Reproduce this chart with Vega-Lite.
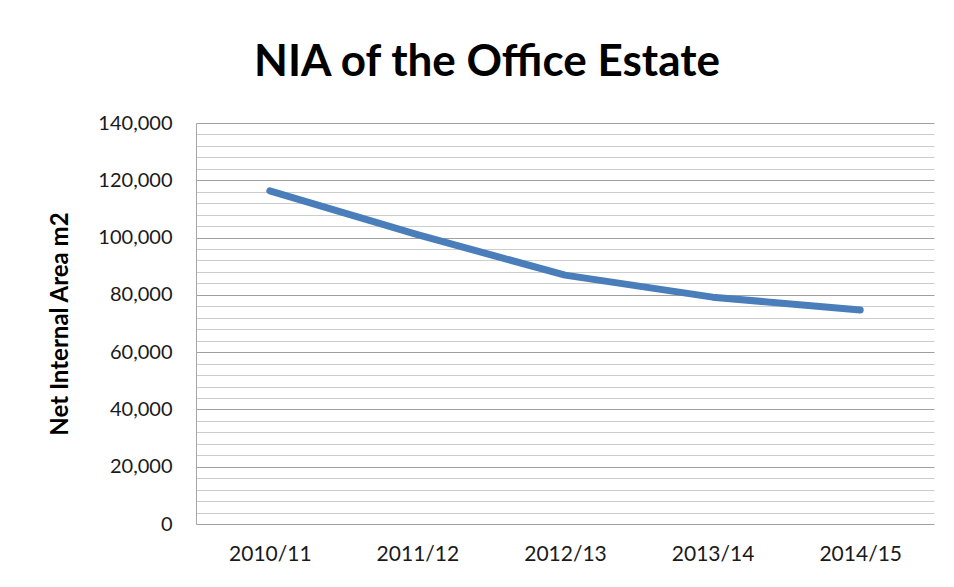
{
  "$schema": "https://vega.github.io/schema/vega-lite/v6.json",
  "autosize": "none",
  "width": 738,
  "height": 401,
  "padding": {"left": 196, "top": 123, "right": 20, "bottom": 63},
  "background": "white",
  "title": {
    "text": "NIA of the Office Estate",
    "font": "Lato",
    "fontSize": 44,
    "fontWeight": "bold",
    "color": "#000000",
    "anchor": "middle",
    "dx": -78,
    "offset": 28
  },
  "data": {
    "values": [
      {"year": "2010/11", "nia": 116300},
      {"year": "2011/12", "nia": 101000},
      {"year": "2012/13", "nia": 86900},
      {"year": "2013/14", "nia": 79200},
      {"year": "2014/15", "nia": 74700}
    ]
  },
  "mark": {"type": "line", "color": "#4a7ebb", "strokeWidth": 7, "strokeCap": "round", "strokeJoin": "round"},
  "encoding": {
    "x": {
      "field": "year",
      "type": "ordinal",
      "title": null,
      "scale": {"paddingInner": 0, "paddingOuter": 0.5},
      "axis": {
        "labelAngle": 0,
        "labelFont": "Lato",
        "labelFontSize": 21,
        "labelColor": "#1a1a1a",
        "labelPadding": 19,
        "ticks": false,
        "domain": false,
        "grid": false
      }
    },
    "y": {
      "field": "nia",
      "type": "quantitative",
      "title": "Net Internal Area m2",
      "scale": {"domain": [0, 140000], "nice": false},
      "axis": {
        "values": [0, 4000, 8000, 12000, 16000, 20000, 24000, 28000, 32000, 36000, 40000, 44000, 48000, 52000, 56000, 60000, 64000, 68000, 72000, 76000, 80000, 84000, 88000, 92000, 96000, 100000, 104000, 108000, 112000, 116000, 120000, 124000, 128000, 132000, 136000, 140000],
        "labelExpr": "datum.value % 20000 === 0 ? format(datum.value, ',') : ''",
        "labelFont": "Lato",
        "labelFontSize": 20,
        "labelColor": "#1a1a1a",
        "labelPadding": 24,
        "ticks": false,
        "domain": true,
        "domainColor": "#a6a6a6",
        "grid": true,
        "gridColor": {"condition": {"test": "datum.value % 20000 === 0", "value": "#a0a0a0"}, "value": "#cccccc"},
        "gridWidth": 1.2,
        "titleFont": "Lato",
        "titleFontSize": 24,
        "titleFontWeight": "bold",
        "titleColor": "#000000",
        "titlePadding": 25
      }
    }
  },
  "config": {"view": {"stroke": null}}
}
